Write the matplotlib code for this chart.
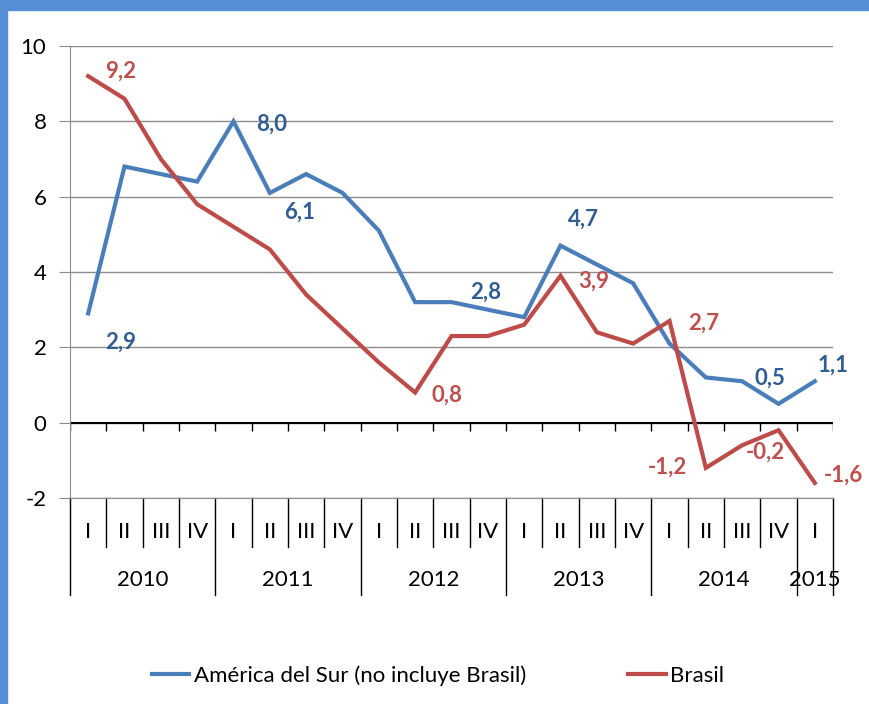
import matplotlib
matplotlib.use("Agg")
import matplotlib.pyplot as plt
from matplotlib.patches import Rectangle

plt.rcParams['font.family'] = ['Lato', 'DejaVu Sans']
plt.rcParams['axes.unicode_minus'] = False

quarters = ["I", "II", "III", "IV"] * 5 + ["I"]
years = ["2010", "2011", "2012", "2013", "2014", "2015"]
year_sizes = [4, 4, 4, 4, 4, 1]

sur = [2.9, 6.8, 6.6, 6.4, 8.0, 6.1, 6.6, 6.1, 5.1, 3.2, 3.2, 3.0,
       2.8, 4.7, 4.2, 3.7, 2.1, 1.2, 1.1, 0.5, 1.1]
brasil = [9.2, 8.6, 7.0, 5.8, 5.2, 4.6, 3.4, 2.5, 1.6, 0.8, 2.3, 2.3,
          2.6, 3.9, 2.4, 2.1, 2.7, -1.2, -0.6, -0.2, -1.6]

# which points get a value label, and pixel offset of the label
sur_labels = {0: (32, -29), 4: (38, -3), 5: (30, -19), 12: (-38, 25),
              13: (23, 26), 19: (-9, 26), 20: (18, 16)}
brasil_labels = {0: (32, 5), 9: (32, -3), 13: (33, -5), 16: (34, -2),
                 17: (-38, 1), 19: (-13, -22), 20: (29, 8)}

blue = "#4A7EBB"
blue_txt = "#2F5D94"
red = "#BE4B48"
red_txt = "#C0504D"
grid = "#8C8C8C"
fs = 16

fig = plt.figure(figsize=(8.69, 7.04), dpi=100)
ax = fig.add_axes([70 / 869, 1 - 498 / 704, 763 / 869, 452 / 704])

x = list(range(len(sur)))
ax.plot(x, sur, color=blue, lw=3, label="América del Sur (no incluye Brasil)",
        solid_joinstyle="miter", zorder=3)
ax.plot(x, brasil, color=red, lw=3, label="Brasil",
        solid_joinstyle="miter", zorder=3)

for i, (dx, dy) in sur_labels.items():
    ax.annotate(f"{sur[i]:.1f}".replace(".", ","), (i, sur[i]), xytext=(dx, dy),
                textcoords="offset pixels", ha="center", va="center",
                fontsize=fs, fontweight="bold", color=blue_txt)
for i, (dx, dy) in brasil_labels.items():
    ax.annotate(f"{brasil[i]:.1f}".replace(".", ","), (i, brasil[i]), xytext=(dx, dy),
                textcoords="offset pixels", ha="center", va="center",
                fontsize=fs, fontweight="bold", color=red_txt)

ax.set_xlim(-0.5, len(sur) - 0.5)
ax.set_ylim(-2, 10)
ax.set_yticks(range(-2, 11, 2))
ax.yaxis.grid(True, color=grid, lw=1)
ax.set_axisbelow(True)
ax.tick_params(axis="y", length=8, color=grid, pad=9, labelsize=fs)
ax.set_xticks([])
for s in ["top", "right"]:
    ax.spines[s].set_visible(False)
ax.spines["left"].set_color(grid)
ax.spines["bottom"].set_color(grid)

# zero line with tick marks
ax.axhline(0, color="black", lw=1.5, zorder=2)
bounds = [b - 0.5 for b in range(len(sur) + 1)]
ax.vlines(bounds, -0.21, 0, color="black", lw=1, zorder=2)

# two level category axis
tr = ax.get_xaxis_transform()
year_edges = [-0.5]
for n in year_sizes:
    year_edges.append(year_edges[-1] + n)
for b in bounds:
    low = -0.215 if b in year_edges else -0.108
    ax.plot([b, b], [0, low], color="black", lw=1, transform=tr, clip_on=False)
for i, q in enumerate(quarters):
    ax.text(i, -0.075, q, transform=tr, ha="center", va="center", fontsize=fs)
start = -0.5
for y, n in zip(years, year_sizes):
    ax.text(start + n / 2, -0.182, y, transform=tr, ha="center", va="center", fontsize=fs)
    start += n

fig.legend(loc="center", bbox_to_anchor=(0.504, 0.04), ncol=2, frameon=False,
           fontsize=fs, handlelength=1.7, handletextpad=0.2, columnspacing=4.6)

# blue frame on top and left
fig.patches.append(Rectangle((0, 1 - 10 / 704), 1, 10 / 704, transform=fig.transFigure,
                             color="#558ED5", zorder=0))
fig.patches.append(Rectangle((0, 0), 7 / 869, 1, transform=fig.transFigure,
                             color="#558ED5", zorder=0))

fig.savefig("out.png", dpi=100)
